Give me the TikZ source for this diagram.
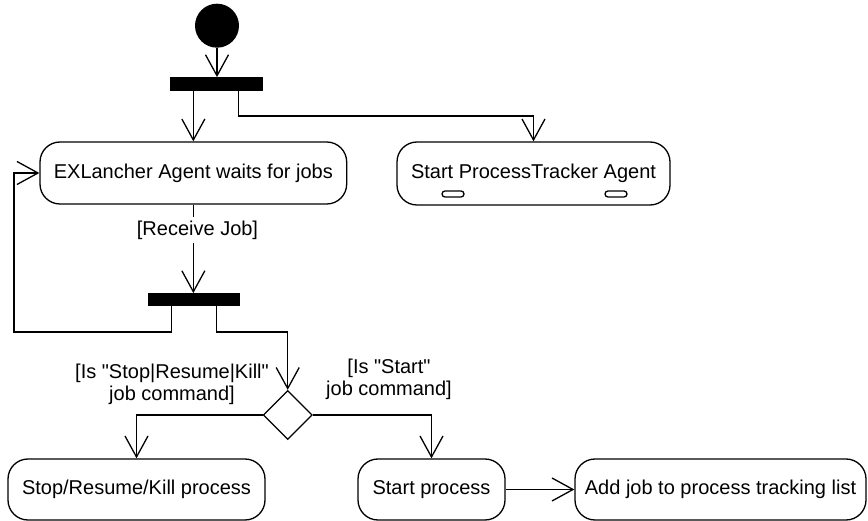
\documentclass[tikz,border=0pt]{standalone}
\usepackage{fontspec}
\setmainfont{Liberation Sans}[Ligatures=TeXOff]
\usetikzlibrary{arrows.meta,shapes.geometric}

\tikzset{
  base/.style={line width=1.3pt},
  flow/.style={base, draw, -{Straight Barb[length=21pt,width=23pt,line width=1.3pt]}},
  txt/.style={font=\fontsize{20}{22}\selectfont},
  act/.style={base, draw, rounded corners=20pt, inner sep=0pt, txt},
  bar/.style={fill=black, draw=black, inner sep=0pt},
  startdot/.style={circle, fill=black, inner sep=0pt, minimum size=44pt},
  decision/.style={base, draw, diamond, inner sep=0pt, minimum width=49pt, minimum height=49pt},
  guard/.style={txt, inner sep=3.5pt, align=center},
  oval/.style={base, draw, rounded corners=3pt, inner sep=0pt, minimum width=22pt, minimum height=6pt}
}

\begin{document}
\begin{tikzpicture}[x=1pt,y=-1pt]
  \useasboundingbox (0,0) rectangle (868,521);

  % initial node and first fork
  \node[startdot] (init) at (217,25.7) {};
  \node[bar, minimum width=91.7pt, minimum height=12.7pt] (bar1) at (215.85,83.65) {};

  % actions of the upper row
  \node[act, minimum width=306.7pt, minimum height=62pt] (wait) at (193.35,173)
    {EXLancher Agent waits for jobs};
  \node[act, minimum width=273pt, minimum height=63pt] (tracker) at (533.5,173.5)
    {\raisebox{3pt}{Start ProcessTracker Agent}};
  \node[oval] (o1) at (453,194) {};
  \node[oval] (o2) at (616,194) {};

  % second fork and decision
  \node[bar, minimum width=91pt, minimum height=12.4pt] (bar2) at (193.8,299.5) {};
  \node[decision] (dec) at (287.7,415) {};

  % actions of the lower row
  \node[act, minimum width=257pt, minimum height=61pt] (stop) at (136.5,489.5)
    {Stop/Resume/Kill process};
  \node[act, minimum width=147pt, minimum height=61pt] (start) at (431.5,489.5)
    {Start process};
  \node[act, minimum width=291pt, minimum height=61pt] (add) at (720.5,489.5)
    {Add job to process tracking list};

  % bend points
  \coordinate (k1) at (238.3,116);
  \coordinate (lp1) at (171.7,332);
  \coordinate (lp2) at (14,332);
  \coordinate (rp) at (216.7,332);

  % connectors
  \draw[flow] (init.south) -- (init.south |- bar1.north);
  \draw[flow] (bar1.south -| wait.north) -- (wait.north);
  \draw[flow] (bar1.south -| k1) -- (k1) -| (tracker.north);
  \draw[flow] (wait.south) -- (wait.south |- bar2.north);
  \node[guard, fill=white] (recv) at (197.5,230) {[Receive Job]};
  \draw[flow] (bar2.south -| lp1) -- (lp1) -- (lp2) |- (wait.west);
  \draw[flow] (bar2.south -| rp) -- (rp) -| (dec.north);
  \draw[flow] (dec.west) -| (stop.north);
  \draw[flow] (dec.east) -| (start.north);
  \draw[flow] (start.east) -- (add.west);

  % guard labels
  \node[guard] (gl) at (172,384) {[Is "Stop|Resume|Kill"\\job command]};
  \node[guard] (gr) at (389,379) {[Is "Start"\\job command]};
\end{tikzpicture}
\end{document}
